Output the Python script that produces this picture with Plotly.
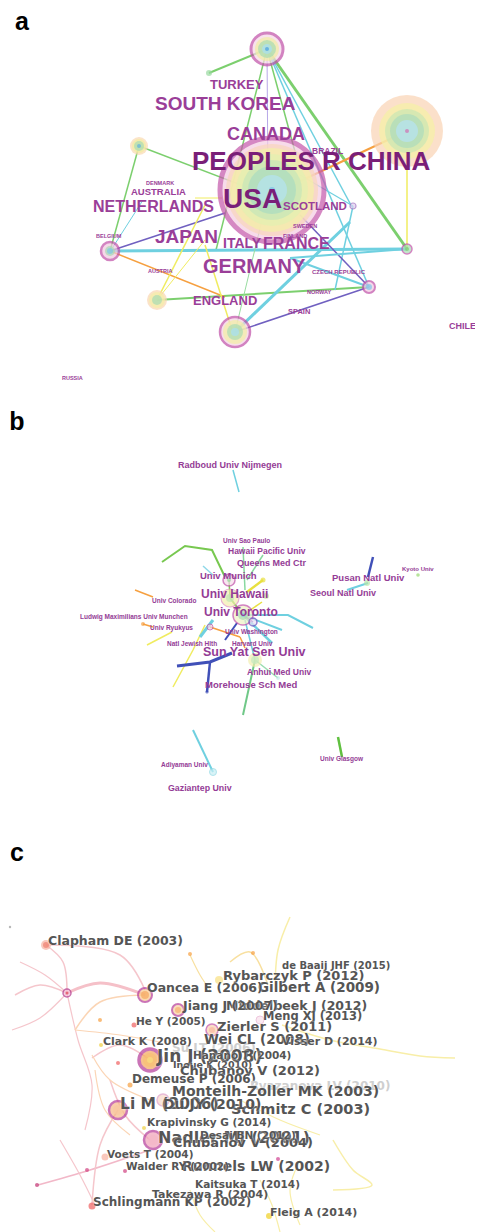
import plotly.graph_objects as go

W, H = 483, 1232
PAGE_MARGIN = 8  # browser default body margin; the figure is offset by this much

# ---------------- Panel a : country co-operation network ----------------
a_labels = ["TURKEY", "SOUTH KOREA", "CANADA", "BRAZIL", "PEOPLES R CHINA", "DENMARK",
            "AUSTRALIA", "USA", "NETHERLANDS", "SCOTLAND", "SWEDEN", "BELGIUM", "JAPAN",
            "FINLAND", "ITALY", "FRANCE", "GERMANY", "AUSTRIA", "CZECH REPUBLIC", "NORWAY",
            "ENGLAND", "SPAIN", "CHILE", "RUSSIA"]
a_label_x = [210, 155, 227, 312, 192, 146, 131, 223, 93, 283, 293, 96, 155, 283, 223, 263,
             203, 148, 312, 307, 193, 288, 449, 62]
a_label_y = [86, 105, 135, 152, 163, 184, 193, 201, 208, 207, 227, 237, 238, 237, 244, 245,
             268, 272, 272, 293, 302, 312, 327, 379]
a_label_size = [13, 19, 18, 8.5, 26, 5.5, 9.5, 28, 16, 11.5, 5.5, 5.5, 19, 5.5, 14, 16,
                20, 5.5, 6, 5.5, 13, 7.5, 9, 5.5]
a_label_dark = ["PEOPLES R CHINA", "USA"]

# nodes: centre and rings (radius, fill, border colour, border width) from outside in
a_node_x = [267, 209, 407, 272, 139, 110, 407, 369, 157, 235, 353]
a_node_y = [49, 73, 131, 190, 146, 251, 249, 287, 300, 332, 206]
a_node_rings = [
    [(16, "#f6d6e6", "#c050a8", 3), (12, "#f1eea2", None, 0), (9, "#a6dbb2", None, 0), (5, "#a9dff2", None, 0), (2, "#4aa0e0", None, 0)],
    [(3, "#98d8a0", None, 0)],
    [(36, "#f9d3b3", None, 0), (28, "#f5f1a5", None, 0), (22, "#c9e7b4", None, 0), (17, "#acdcbc", None, 0), (11, "#b7e3f3", None, 0), (2, "#d070b0", None, 0)],
    [(52, "#f4cde2", "#c456aa", 5), (46, "#f8d6bb", None, 0), (42, "#f3f1a6", None, 0), (36, "#e3efb0", None, 0), (30, "#c6e6b8", None, 0), (24, "#a9dcc0", None, 0), (15, "#b5e3f2", None, 0), (3, "#7bc0e8", None, 0)],
    [(9, "#f9d9b0", None, 0), (7, "#f2eea0", None, 0), (5, "#a8dcb4", None, 0), (2, "#5fb0e0", None, 0)],
    [(9, "#f2c8e0", "#c050a8", 2.5), (5, "#a6dbb2", None, 0), (3, "#7cc8e8", None, 0)],
    [(5, "#a6dbb2", "#c050a8", 1.5), (2, "#7ccf6e", None, 0)],
    [(6, "#f2c8e0", "#c050a8", 2), (3, "#7cc8e8", None, 0)],
    [(10, "#f9d6b0", None, 0), (8, "#f3efa6", None, 0), (5, "#a8dcb4", None, 0)],
    [(15, "#f4cfe2", "#c050a8", 2.5), (12, "#f2efa4", None, 0), (8, "#a9dcb4", None, 0), (4, "#a9dff2", None, 0)],
    [(3, "#e0d0f0", "#a070c0", 1.2)],
]

# edges: x1, y1, x2, y2, colour, width
a_edges = [
    (267, 49, 209, 73, "#7ccf6e", 2), (267, 49, 268, 190, "#b8a8e8", 1),
    (267, 49, 407, 249, "#7ccf6e", 3), (267, 49, 369, 287, "#6fd0e0", 1.5),
    (267, 49, 352, 207, "#6fd0e0", 1.5), (267, 49, 300, 170, "#7ccf6e", 1.5),
    (267, 49, 216, 250, "#7ccf6e", 1.5), (139, 146, 110, 251, "#7ccf6e", 1.5),
    (139, 146, 262, 193, "#7ccf6e", 1.5), (110, 251, 407, 249, "#6fd0e0", 3),
    (110, 251, 225, 213, "#7060c0", 1.5), (110, 251, 225, 297, "#f6a040", 1.5),
    (407, 131, 277, 192, "#f6a040", 2), (407, 131, 407, 249, "#f0ec60", 1.5),
    (157, 300, 369, 287, "#7ccf6e", 2), (235, 332, 369, 287, "#7060c0", 1.5),
    (235, 332, 350, 222, "#6fd0e0", 3), (157, 300, 205, 205, "#f0ec60", 1.5),
    (157, 300, 205, 240, "#f0ec60", 1), (205, 245, 232, 330, "#f0ec60", 1.5),
    (300, 215, 369, 287, "#7060c0", 1.5), (353, 206, 335, 290, "#6fd0e0", 1.5),
    (290, 258, 407, 249, "#6fd0e0", 2), (235, 332, 268, 195, "#98dca0", 1),
    (290, 258, 369, 287, "#6fd0e0", 2), (195, 198, 222, 198, "#f0ec60", 1),
    (113, 247, 143, 200, "#6fd0e0", 1), (353, 206, 300, 175, "#6fd0e0", 1.2),
]

# ---------------- Panel b : institution network ----------------
b_labels = ["Radboud Univ Nijmegen", "Univ Sao Paulo", "Hawaii Pacific Univ", "Queens Med Ctr",
            "Univ Munich", "Univ Hawaii", "Univ Toronto", "Univ Colorado",
            "Ludwig Maximilians Univ Munchen", "Univ Ryukyus", "Univ Washington",
            "Natl Jewish Hlth", "Harvard Univ", "Sun Yat Sen Univ", "Anhui Med Univ",
            "Morehouse Sch Med", "Pusan Natl Univ", "Seoul Natl Univ", "Kyoto Univ",
            "Adiyaman Univ", "Gaziantep Univ", "Univ Glasgow"]
b_label_x = [178, 223, 228, 237, 200, 201, 204, 152, 80, 150, 225, 167, 232, 203, 247, 205,
             332, 310, 402, 161, 168, 320]
b_label_y = [466, 541, 552, 564, 577, 595, 613, 601, 617, 628, 632, 644, 644, 653, 673, 686,
             579, 594, 569, 765, 789, 759]
b_label_size = [9, 6.5, 8.5, 9, 9.5, 12, 12, 6.5, 6.5, 6.5, 6.5, 6.5, 6.5, 12.5, 8.5, 9.5,
                9.5, 9, 6, 6.5, 8.8, 6.5]

b_node_x = [229, 230, 243, 253, 255, 210, 367, 418, 213, 263, 207, 143, 266, 278]
b_node_y = [580, 598, 615, 622, 660, 627, 583, 575, 772, 580, 692, 624, 596, 678]
b_node_rings = [
    [(6, "#f6dcea", "#c050a8", 1.5), (2, "#98d8a0", None, 0)],
    [(9, "#f3efae", "#e090c0", 1.2), (4, "#bfe6b4", None, 0)],
    [(10, "#eef2c4", "#c050a8", 1.5), (5, "#a8dcb4", None, 0), (2, "#7cc8e8", None, 0)],
    [(4, "#eae0f4", "#7050c0", 1.5)],
    [(7, "#f2eeb0", None, 0), (4, "#c4e8c0", None, 0)],
    [(3, "#f3d0e4", "#c050a8", 1)],
    [(3, "#b8e6a8", None, 0)],
    [(1.8, "#98d870", None, 0)],
    [(3.5, "#c8eef4", "#8fd8e4", 1)],
    [(2.5, "#e8e040", None, 0)],
    [(1.6, "#4050b8", None, 0)],
    [(2, "#f6a040", None, 0)],
    [(3, "#c8e8a0", None, 0)],
    [(2, "#c8ecec", None, 0)],
]

# edges as polylines: list of points, colour, width
b_edges = [
    ([(233, 470), (239, 492)], "#6fd0e0", 1.5),
    ([(162, 562), (185, 546), (212, 550), (225, 577)], "#78c850", 2),
    ([(203, 566), (213, 575)], "#8fd8e8", 1.5),
    ([(243, 547), (245, 590)], "#88d8a0", 1.5),
    ([(263, 555), (247, 580)], "#88d8a0", 1.5),
    ([(247, 592), (263, 580)], "#e8e040", 2.5),
    ([(243, 615), (288, 615), (313, 628)], "#6fd0e0", 2),
    ([(243, 615), (282, 630)], "#6fd0e0", 2),
    ([(243, 615), (272, 643)], "#6fd0e0", 2.5),
    ([(135, 590), (153, 597)], "#f6a040", 1.5),
    ([(143, 624), (153, 627)], "#f6a040", 1.5),
    ([(147, 645), (172, 632)], "#f0ec60", 1.5),
    ([(210, 627), (240, 637)], "#f6a040", 1.5),
    ([(240, 637), (245, 648)], "#f6a040", 1.5),
    ([(200, 637), (213, 620)], "#6fd0e0", 3),
    ([(225, 640), (237, 623)], "#4050b8", 2),
    ([(177, 666), (210, 662), (232, 653)], "#4050b8", 3),
    ([(210, 662), (207, 692)], "#4050b8", 2.5),
    ([(173, 687), (193, 650), (205, 625)], "#f0ec60", 1.5),
    ([(255, 660), (243, 715)], "#70c888", 2),
    ([(255, 660), (278, 678)], "#98dcb0", 1.5),
    ([(255, 660), (245, 620)], "#6fd0e0", 1.5),
    ([(373, 557), (368, 577)], "#4050b8", 2.5),
    ([(368, 583), (347, 590)], "#6fd0e0", 2),
    ([(193, 730), (213, 772)], "#6fd0e0", 2),
    ([(338, 737), (342, 757)], "#60c040", 2.5),
    ([(229, 580), (230, 598)], "#78c850", 1.5),
    ([(230, 598), (243, 615)], "#78c850", 2),
    ([(243, 615), (253, 622)], "#7060c0", 1.5),
    ([(243, 615), (262, 602)], "#e8e040", 1.5),
]

# ---------------- Panel c : co-cited references ----------------
c_labels = ["Clapham DE (2003)", "de Baaij JHF (2015)", "Rybarczyk P (2012)", "Gilbert A (2009)",
            "Oancea E (2006)", "Middelbeek J (2012)", "Jiang J (2007)", "Meng XJ (2013)",
            "He Y (2005)", "Zierler S (2011)", "Su LT (2006)", "Clark K (2008)", "Wei CL (2008)",
            "Visser D (2014)", "Jin J (2008)", "Hanano T (2004)", "Inoue K (2010)",
            "Chubanov V (2012)", "Demeuse P (2006)", "Ryazanova LV (2010)",
            "Monteilh-Zoller MK (2003)", "Schmitz C (2003)", "Li M (2006)", "Du JY (2010)",
            "Krapivinsky G (2014)", "Nadler MJ (2001)", "Chubanov V (2004)", "Desai BN (2012)",
            "Voets T (2004)", "Runnels LW (2002)", "Walder RY (2002)", "Kaitsuka T (2014)",
            "Schlingmann KP (2002)", "Takezawa R (2004)", "Fleig A (2014)"]
c_label_x = [48, 282, 223, 258, 147, 226, 183, 263, 136, 217, 172, 103, 204, 282, 157, 193,
             173, 180, 132, 250, 172, 231, 120, 163, 147, 158, 173, 200, 107, 182, 126, 195,
             93, 152, 270]
c_label_y = [942, 966, 977, 989, 989, 1007, 1007, 1017, 1022, 1028, 1049, 1042, 1041, 1042,
             1058, 1056, 1066, 1072, 1080, 1087, 1092, 1110, 1105, 1105, 1123, 1139, 1144,
             1136, 1155, 1167, 1167, 1185, 1203, 1195, 1213]
c_label_size = [12.5, 10, 13, 13.5, 12.5, 12.5, 12.5, 11.5, 10.5, 13, 12, 11, 13.5, 11, 17,
                10.5, 9.5, 13, 12, 12, 14, 14.5, 15.5, 14, 10.5, 16, 13, 10.5, 10.5, 14, 10.5,
                10.5, 12, 11, 11]
c_label_ghost = ["Su LT (2006)", "Ryazanova LV (2010)"]

c_node_x = [46, 67, 145, 178, 212, 260, 150, 118, 153, 163, 219, 190, 253, 100, 134, 101,
            118, 130, 144, 105, 125, 37, 87, 92, 269, 278, 10]
c_node_y = [945, 993, 995, 1010, 1030, 1020, 1060, 1110, 1140, 1100, 980, 954, 953, 1020,
            1025, 1045, 1063, 1085, 1128, 1157, 1171, 1185, 1170, 1206, 1216, 1159, 927]
c_node_rings = [
    [(5, "#f6b0a0", None, 0), (3, "#f08070", None, 0)],
    [(4, "#f3c0d8", "#b0308a", 1.5), (1.5, "#e04050", None, 0)],
    [(7, "#f8c890", "#b53a9a", 2), (4, "#f6a860", None, 0)],
    [(6, "#f8d0a0", "#b53a9a", 2), (3, "#f6b070", None, 0)],
    [(6, "#f8d0b0", "#c050a8", 1.5), (3, "#f8b8a0", None, 0)],
    [(4, "#f8e0ec", "#e8b0d0", 1)],
    [(11, "#f4a860", "#b53a9a", 3.5), (7, "#f8c070", None, 0), (3, "#f8e080", None, 0)],
    [(9, "#f6b888", "#b53a9a", 2.5), (5, "#f8c8a0", None, 0)],
    [(9, "#f0a0b8", "#b53a9a", 2.5), (5, "#f4b8c8", None, 0)],
    [(6, "#f8d8c8", "#e0a0c8", 1.5)],
    [(4, "#f8e080", None, 0)],
    [(2, "#f6a040", None, 0)], [(2, "#f6a040", None, 0)], [(2, "#f6a040", None, 0)],
    [(2.5, "#f06060", None, 0)], [(2, "#f0d040", None, 0)], [(2, "#f06060", None, 0)],
    [(2.5, "#f6a040", None, 0)], [(2, "#f0d040", None, 0)], [(3.5, "#f8b0a0", None, 0)],
    [(2, "#d04080", None, 0)], [(2, "#c03070", None, 0)], [(2, "#d04080", None, 0)],
    [(3.5, "#f06060", None, 0)], [(3, "#f0d020", None, 0)], [(2, "#d04090", None, 0)],
    [(1.2, "#999999", None, 0)],
]

# faint link curves (control points), colour, width
c_curves = [
    ([(15, 995), (40, 985), (67, 993)], "#f5c6cc", 1.5),
    ([(67, 993), (100, 983), (145, 995)], "#f5c0c8", 3),
    ([(67, 993), (63, 962), (46, 945)], "#f5c6cc", 1.5),
    ([(46, 945), (120, 955), (145, 990)], "#f5c6cc", 1.5),
    ([(67, 993), (78, 1040), (92, 1085), (85, 1130)], "#f5c6cc", 1.2),
    ([(67, 993), (40, 1018), (12, 1030)], "#f5c6cc", 1.2),
    ([(20, 962), (45, 975), (67, 993)], "#f5c6cc", 1.2),
    ([(38, 1185), (90, 1170), (150, 1150)], "#f2b8c8", 1.8),
    ([(60, 1140), (80, 1175), (95, 1205)], "#f5c6cc", 1.2),
    ([(118, 1110), (100, 1145), (92, 1205)], "#f5c6cc", 1.5),
    ([(150, 1060), (120, 1045), (92, 1058)], "#f5c6cc", 1.5),
    ([(110, 1080), (125, 1115), (150, 1140)], "#f5c6cc", 1.5),
    ([(75, 1030), (100, 1002), (145, 995)], "#fbd5b5", 1.5),
    ([(75, 1030), (120, 1035), (160, 1042)], "#fbd5b5", 1.2),
    ([(92, 1055), (110, 1080), (150, 1100)], "#fbd5b5", 1.2),
    ([(95, 1070), (105, 1110), (130, 1135)], "#fbd5b5", 1.2),
    ([(290, 917), (278, 950), (275, 990)], "#f8eea8", 1.5),
    ([(230, 962), (250, 952), (268, 985)], "#f8e0a0", 1.5),
    ([(190, 955), (200, 975), (210, 990)], "#f8e0a0", 1.2),
    ([(282, 1025), (330, 1040), (380, 1049), (420, 1056), (455, 1058)], "#f8eea8", 1.5),
    ([(333, 1140), (353, 1170), (372, 1185), (333, 1190)], "#f8eea8", 1.5),
    ([(190, 1190), (200, 1215), (215, 1232)], "#f8eea8", 1.2),
    ([(260, 1180), (272, 1205), (280, 1232)], "#f8eea8", 1.2),
    ([(300, 1160), (290, 1190), (300, 1225)], "#f8eea8", 1.2),
    ([(240, 1100), (280, 1120), (320, 1135)], "#f8eea8", 1.2),
]

panel_letters = ["a", "b", "c"]
panel_letter_x = [22, 17, 17]
panel_letter_y = [24, 424, 855]

fig = go.Figure()


def add_lines(segments_by_style):
    for (color, width), pts in segments_by_style.items():
        xs, ys = [], []
        for seg in pts:
            for (x, y) in seg:
                xs.append(x)
                ys.append(y)
            xs.append(None)
            ys.append(None)
        fig.add_trace(go.Scatter(x=xs, y=ys, mode="lines",
                                 line=dict(color=color, width=width),
                                 hoverinfo="skip", showlegend=False))


def add_nodes(node_x, node_y, node_rings):
    depth = max(len(r) for r in node_rings)
    for level in range(depth):
        xs, ys, sizes, fills, lcols, lws = [], [], [], [], [], []
        for x, y, rings in zip(node_x, node_y, node_rings):
            if level < len(rings):
                r, fill, lc, lw = rings[level]
                xs.append(x)
                ys.append(y)
                sizes.append(2 * r)
                fills.append(fill)
                lcols.append(lc if lc else fill)
                lws.append(lw)
        fig.add_trace(go.Scatter(x=xs, y=ys, mode="markers",
                                 marker=dict(size=sizes, color=fills,
                                             line=dict(color=lcols, width=lws)),
                                 hoverinfo="skip", showlegend=False))


# panel c curves
for pts, color, width in c_curves:
    fig.add_trace(go.Scatter(x=[p[0] for p in pts], y=[p[1] for p in pts], mode="lines",
                             line=dict(color=color, width=width, shape="spline"),
                             hoverinfo="skip", showlegend=False))

# panel a edges
styles = {}
for x1, y1, x2, y2, c, w in a_edges:
    styles.setdefault((c, w), []).append([(x1, y1), (x2, y2)])
add_lines(styles)

# panel b edges
styles = {}
for pts, c, w in b_edges:
    styles.setdefault((c, w), []).append(pts)
add_lines(styles)

add_nodes(a_node_x, a_node_y, a_node_rings)
add_nodes(b_node_x, b_node_y, b_node_rings)
add_nodes(c_node_x, c_node_y, c_node_rings)

# panel a labels
fig.add_trace(go.Scatter(
    x=a_label_x, y=a_label_y, text=a_labels, mode="text", textposition="middle right",
    textfont=dict(family="Liberation Sans, Arial, sans-serif", size=a_label_size,
                  color=["#7a1f78" if t in a_label_dark else "#9a3e98" for t in a_labels],
                  weight="bold"),
    cliponaxis=False, hoverinfo="skip", showlegend=False))

# panel b labels
fig.add_trace(go.Scatter(
    x=b_label_x, y=b_label_y, text=b_labels, mode="text", textposition="middle right",
    textfont=dict(family="Liberation Sans, Arial, sans-serif", size=b_label_size,
                  color="#943c96", weight="bold"),
    cliponaxis=False, hoverinfo="skip", showlegend=False))

# panel c labels (one trace each so later ones overlay earlier ones)
for t, x, y, s in zip(c_labels, c_label_x, c_label_y, c_label_size):
    fig.add_trace(go.Scatter(
        x=[x], y=[y], text=[t], mode="text", textposition="middle right",
        textfont=dict(family="DejaVu Sans, sans-serif", size=s,
                      color="#cfcfcf" if t in c_label_ghost else "#555555", weight="bold",
                      shadow="0px 0px 2px rgba(255,255,255,0.95)"),
        cliponaxis=False, hoverinfo="skip", showlegend=False))

# panel letters
fig.add_trace(go.Scatter(
    x=panel_letter_x, y=panel_letter_y, text=panel_letters, mode="text",
    textposition="middle center",
    textfont=dict(family="Liberation Sans, Arial, sans-serif", size=25, color="black",
                  weight="bold"),
    cliponaxis=False, hoverinfo="skip", showlegend=False))

# the page's default 8 px body margin shifts the figure; compensate through the ranges
fig.update_layout(
    width=W - PAGE_MARGIN, height=H - PAGE_MARGIN, autosize=False,
    margin=dict(l=0, r=0, t=0, b=0),
    plot_bgcolor="white", paper_bgcolor="white",
    xaxis=dict(range=[PAGE_MARGIN, W], visible=False, fixedrange=True),
    yaxis=dict(range=[H, PAGE_MARGIN], visible=False, fixedrange=True),
    showlegend=False,
)

fig.write_html("out.html")
